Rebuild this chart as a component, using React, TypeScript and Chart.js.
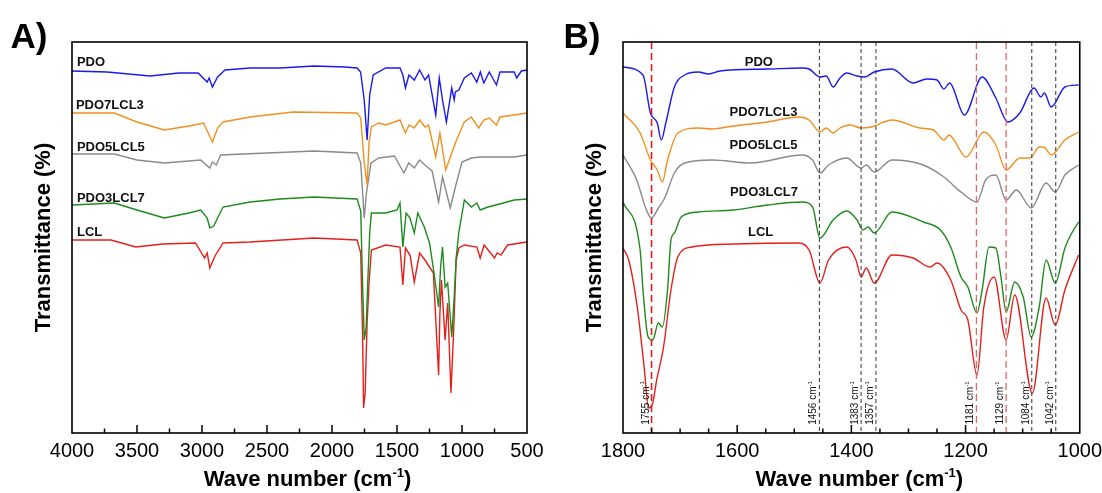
import React, { useEffect, useRef } from 'react';
import { Chart, registerables } from 'chart.js';

Chart.register(...registerables);

const FONT = "'Liberation Sans', Arial, Helvetica, sans-serif";

const seriesNames = ['PDO', 'PDO7LCL3', 'PDO5LCL5', 'PDO3LCL7', 'LCL'];
const seriesColors = ['#1a1aeb', '#f0901e', '#8a8a8a', '#1e8a1e', '#e3201b'];

// ---------- Panel A (full range, wavenumber, offset transmittance a.u.) ----------
const pdoA: [number, number][] = [
  [4000, 362], [3730, 361], [3400, 357], [3180, 360], [3030, 360], [2960, 351], [2945, 355], [2920, 346],
  [2880, 356], [2823, 363], [2630, 365], [2400, 365], [2136, 367], [1900, 366], [1807, 365], [1780, 361],
  [1752, 333], [1730, 293], [1710, 338], [1683, 358], [1587, 365], [1477, 365], [1455, 358], [1435, 345],
  [1408, 358], [1367, 353], [1326, 363], [1285, 353], [1257, 358], [1202, 318], [1175, 355], [1150, 333],
  [1120, 311], [1079, 345], [1060, 333], [1051, 341], [1024, 343], [982, 355], [928, 360], [886, 351],
  [859, 361], [832, 350], [790, 361], [735, 348], [708, 361], [598, 361], [579, 355], [543, 362], [500, 363],
];
const pdo7A: [number, number][] = [
  [4000, 320], [3675, 320], [3500, 311], [3290, 303], [3100, 307], [2988, 310], [2960, 302], [2919, 291],
  [2880, 305], [2838, 311], [2630, 316], [2300, 321], [1807, 320], [1779, 315], [1752, 270], [1730, 248],
  [1715, 290], [1697, 306], [1640, 310], [1587, 308], [1477, 313], [1435, 300], [1408, 308], [1367, 305],
  [1326, 313], [1285, 306], [1257, 308], [1202, 276], [1170, 300], [1125, 263], [1079, 280], [1051, 290],
  [982, 311], [928, 316], [872, 305], [832, 313], [790, 315], [735, 308], [708, 316], [598, 318], [500, 320],
];
const pdo5A: [number, number][] = [
  [4000, 279], [3675, 279], [3500, 273], [3290, 270], [3010, 273], [2940, 265], [2919, 271], [2890, 268],
  [2856, 278], [2500, 280], [2136, 282], [1807, 280], [1779, 270], [1752, 215], [1735, 240], [1700, 270],
  [1640, 275], [1520, 277], [1447, 260], [1410, 270], [1367, 265], [1326, 273], [1285, 268], [1230, 262],
  [1180, 231], [1150, 256], [1090, 225], [1051, 246], [1000, 271], [928, 275], [860, 276], [750, 276],
  [598, 276], [500, 278],
];
const pdo3A: [number, number][] = [
  [4000, 228], [3675, 230], [3500, 223], [3290, 215], [3100, 220], [3010, 223], [2960, 215], [2940, 205],
  [2910, 207], [2880, 215], [2838, 226], [2630, 231], [2400, 234], [2136, 236], [1807, 234], [1779, 222],
  [1765, 150], [1752, 93], [1737, 106], [1725, 150], [1710, 200], [1697, 220], [1587, 220], [1500, 223],
  [1477, 230], [1455, 186], [1430, 220], [1400, 215], [1367, 200], [1340, 220], [1290, 206], [1250, 190],
  [1215, 160], [1180, 126], [1165, 165], [1150, 186], [1130, 146], [1110, 150], [1079, 96], [1060, 136],
  [1045, 175], [1025, 200], [982, 233], [928, 226], [886, 230], [860, 223], [800, 226], [740, 228],
  [598, 233], [500, 234],
];
const lclA: [number, number][] = [
  [4000, 193], [3700, 193], [3510, 186], [3300, 189], [3050, 190], [2980, 175], [2960, 180], [2940, 165],
  [2900, 177], [2838, 190], [2630, 191], [2136, 195], [1807, 193], [1779, 180], [1765, 100], [1757, 25],
  [1745, 40], [1730, 110], [1715, 150], [1697, 183], [1587, 188], [1477, 186], [1455, 148], [1435, 185],
  [1400, 178], [1367, 151], [1326, 180], [1285, 173], [1220, 160], [1180, 58], [1170, 120], [1158, 153],
  [1130, 93], [1110, 130], [1085, 40], [1065, 100], [1045, 173], [1024, 185], [982, 188], [886, 186],
  [860, 175], [830, 188], [750, 175], [730, 180], [700, 178], [650, 188], [500, 191],
];

// ---------- Panel B (1800-1000 cm-1 zoom) ----------
const pdoB: [number, number][] = [
  [1800, 366], [1765, 358], [1752, 320], [1740, 310], [1733, 293], [1725, 310], [1710, 346], [1692, 358],
  [1668, 361], [1650, 359], [1630, 362], [1547, 364], [1486, 365], [1474, 364], [1455, 356], [1444, 357],
  [1432, 346], [1420, 355], [1408, 360], [1390, 357], [1377, 356], [1360, 361], [1329, 364], [1292, 350],
  [1268, 354], [1250, 353], [1238, 344], [1228, 350], [1202, 318], [1171, 356], [1147, 335], [1126, 311],
  [1105, 320], [1080, 345], [1068, 336], [1062, 340], [1050, 326], [1026, 346], [1002, 348],
];
const pdo7B: [number, number][] = [
  [1800, 320], [1770, 300], [1752, 273], [1740, 263], [1731, 251], [1722, 273], [1704, 300], [1668, 305],
  [1644, 304], [1607, 307], [1547, 311], [1492, 316], [1474, 313], [1455, 301], [1444, 305], [1432, 300],
  [1420, 305], [1402, 308], [1383, 305], [1365, 306], [1329, 313], [1280, 305], [1256, 303], [1238, 293],
  [1229, 298], [1199, 276], [1168, 301], [1147, 288], [1129, 263], [1105, 275], [1087, 275], [1071, 286],
  [1063, 286], [1050, 278], [1026, 293], [1002, 301],
];
const pdo5B: [number, number][] = [
  [1800, 278], [1776, 253], [1759, 223], [1750, 215], [1738, 225], [1727, 235], [1710, 260], [1692, 270],
  [1644, 273], [1577, 270], [1486, 278], [1468, 273], [1455, 260], [1440, 268], [1408, 275], [1383, 265],
  [1374, 268], [1360, 261], [1329, 273], [1274, 268], [1238, 256], [1208, 241], [1180, 231], [1165, 253],
  [1147, 258], [1129, 233], [1111, 243], [1085, 225], [1059, 250], [1043, 241], [1026, 258], [1002, 268],
];
const pdo3B: [number, number][] = [
  [1800, 231], [1770, 183], [1765, 143], [1756, 96], [1748, 93], [1738, 110], [1731, 106], [1722, 143],
  [1716, 193], [1710, 200], [1698, 216], [1668, 221], [1607, 223], [1547, 228], [1486, 231], [1468, 226],
  [1455, 195], [1432, 213], [1408, 222], [1390, 213], [1380, 203], [1371, 206], [1360, 200], [1329, 221],
  [1274, 211], [1244, 203], [1226, 186], [1208, 156], [1196, 146], [1180, 120], [1171, 143], [1159, 186],
  [1147, 185], [1138, 156], [1129, 121], [1114, 151], [1099, 136], [1085, 96], [1071, 126], [1059, 173],
  [1043, 150], [1026, 185], [1014, 200], [1002, 211],
];
const lclB: [number, number][] = [
  [1800, 185], [1790, 173], [1775, 126], [1763, 66], [1755, 25], [1748, 30], [1741, 53], [1729, 86],
  [1716, 143], [1704, 176], [1680, 186], [1607, 189], [1492, 190], [1474, 183], [1455, 150], [1440, 173],
  [1408, 186], [1392, 173], [1383, 156], [1374, 165], [1360, 150], [1329, 178], [1292, 175], [1262, 166],
  [1250, 170], [1226, 153], [1208, 123], [1196, 113], [1180, 58], [1168, 126], [1150, 156], [1129, 93],
  [1114, 138], [1083, 40], [1059, 135], [1043, 108], [1026, 143], [1002, 178],
];

// Axis ranges / ticks
const axisA = { min: 500, max: 4000, major: 500, minor: 250 };
const axisB = { min: 1000, max: 1800, major: 200, minor: 50 };

// Series label anchors (wavenumber, value)
const labelTextA = seriesNames;
const labelXA = [3962, 3970, 3962, 3962, 3962];
const labelYA = [371, 328, 286, 235, 201];
const labelXB = [1562, 1554, 1554, 1553, 1559];
const labelYB = [371, 321, 288, 241, 201];

// Marker lines in panel B
const markerPos = [1750, 1456, 1383, 1357, 1181, 1129, 1084, 1042];
const markerText = ['1755', '1456', '1383', '1357', '1181', '1129', '1084', '1042'];
const markerKind = ['red', 'gray', 'gray', 'gray', 'pink', 'pink', 'gray', 'gray'];

const markerStyle: Record<string, { color: string; width: number; dash: number[] }> = {
  red: { color: '#e41a1c', width: 1.6, dash: [7, 4] },
  pink: { color: '#e06868', width: 1.3, dash: [7, 4] },
  gray: { color: '#333333', width: 1, dash: [4, 3] },
};

function drawSup(ctx: CanvasRenderingContext2D, main: string, sup: string, tail: string, size: number, weight: string, align: 'center' | 'left') {
  const big = `${weight} ${size}px ${FONT}`;
  const small = `${weight} ${Math.round(size * 0.6)}px ${FONT}`;
  ctx.font = big;
  const w1 = ctx.measureText(main).width;
  const w3 = ctx.measureText(tail).width;
  ctx.font = small;
  const w2 = ctx.measureText(sup).width;
  const total = w1 + w2 + w3;
  let x = align === 'center' ? -total / 2 : 0;
  ctx.textAlign = 'left';
  ctx.textBaseline = 'alphabetic';
  ctx.font = big;
  ctx.fillText(main, x, 0);
  x += w1;
  ctx.font = small;
  ctx.fillText(sup, x, -size * 0.42);
  x += w2;
  ctx.font = big;
  ctx.fillText(tail, x, 0);
}

interface PanelProps {
  left: number;
  width: number;
  padRight: number;
  letter: string;
  series: [number, number][][];
  axis: { min: number; max: number; major: number; minor: number };
  labelX: number[];
  labelY: number[];
  labelAlign: 'left' | 'center';
  markers: boolean;
  smooth: boolean;
}

function Panel(props: PanelProps) {
  const ref = useRef<HTMLCanvasElement>(null);
  useEffect(() => {
    const canvas = ref.current;
    if (!canvas) return;
    const { axis } = props;
    const decor = {
      id: 'decor',
      afterDatasetsDraw(chart: any) {
        const ctx: CanvasRenderingContext2D = chart.ctx;
        const ca = chart.chartArea;
        const xs = chart.scales.x;
        const ys = chart.scales.y;
        ctx.save();
        // marker lines
        if (props.markers) {
          markerPos.forEach((v, i) => {
            const st = markerStyle[markerKind[i]];
            const px = xs.getPixelForValue(v);
            ctx.beginPath();
            ctx.setLineDash(st.dash);
            ctx.strokeStyle = st.color;
            ctx.lineWidth = st.width;
            ctx.moveTo(px, ca.top);
            ctx.lineTo(px, ca.bottom);
            ctx.stroke();
          });
          ctx.setLineDash([]);
          ctx.fillStyle = '#111';
          markerPos.forEach((v, i) => {
            const px = xs.getPixelForValue(v);
            ctx.save();
            ctx.translate(px - 3, ca.bottom - 30);
            ctx.rotate(-Math.PI / 2);
            drawSup(ctx, markerText[i] + ' cm', '-1', '', 10, 'normal', 'center');
            ctx.restore();
          });
        }
        // frame
        ctx.setLineDash([]);
        ctx.strokeStyle = '#000';
        ctx.lineWidth = 1.6;
        ctx.strokeRect(ca.left, ca.top, ca.right - ca.left, ca.bottom - ca.top);
        // inward ticks
        ctx.lineWidth = 1.5;
        for (let v = axis.min + axis.minor; v < axis.max; v += axis.minor) {
          const isMajor = (v - axis.min) % axis.major === 0;
          const px = xs.getPixelForValue(v);
          ctx.beginPath();
          ctx.moveTo(px, ca.bottom);
          ctx.lineTo(px, ca.bottom - (isMajor ? 8 : 4.5));
          ctx.stroke();
        }
        // series labels
        ctx.fillStyle = '#111';
        ctx.font = `bold 13px ${FONT}`;
        ctx.textAlign = props.labelAlign;
        ctx.textBaseline = 'middle';
        labelTextA.forEach((t, i) => {
          ctx.fillText(t, xs.getPixelForValue(props.labelX[i]), ys.getPixelForValue(props.labelY[i]));
        });
        // axis titles
        ctx.fillStyle = '#000';
        ctx.save();
        ctx.translate(ca.left - 22, (ca.top + ca.bottom) / 2);
        ctx.rotate(-Math.PI / 2);
        ctx.font = `bold 22px ${FONT}`;
        ctx.textAlign = 'center';
        ctx.textBaseline = 'alphabetic';
        ctx.fillText('Transmittance (%)', 0, 0);
        ctx.restore();
        ctx.save();
        ctx.translate((ca.left + ca.right) / 2 + 8, ca.bottom + 53);
        drawSup(ctx, 'Wave number (cm', '-1', ')', 22, 'bold', 'center');
        ctx.restore();
        // panel letter
        ctx.font = `bold 35px ${FONT}`;
        ctx.textAlign = 'left';
        ctx.textBaseline = 'alphabetic';
        ctx.fillText(props.letter, props.left === 0 ? 10.5 : 12.5, 48);
        ctx.restore();
      },
    };
    const chart = new Chart(canvas, {
      type: 'line',
      data: {
        datasets: props.series.map((s, i) => ({
          label: seriesNames[i],
          data: s.map(([x, y]) => ({ x, y })),
          borderColor: seriesColors[i],
          backgroundColor: seriesColors[i],
          borderWidth: 1.4,
          pointRadius: 0,
          fill: false,
          tension: props.smooth ? 0.4 : 0,
          cubicInterpolationMode: props.smooth ? 'monotone' : 'default',
        })),
      },
      options: {
        responsive: false,
        animation: false,
        devicePixelRatio: 1,
        layout: { padding: { left: 72, right: props.padRight, top: 42, bottom: 0 } },
        plugins: { legend: { display: false }, tooltip: { enabled: false } },
        scales: {
          x: {
            type: 'linear',
            reverse: true,
            min: axis.min,
            max: axis.max,
            afterFit: (s: any) => {
              s.height = 60;
            },
            grid: { display: false, drawTicks: false },
            border: { display: false },
            ticks: {
              stepSize: axis.major,
              autoSkip: false,
              maxRotation: 0,
              padding: 0,
              color: '#000',
              font: { family: FONT, size: 20, lineHeight: 1.85 },
              callback: (v: any) => String(v),
            },
          },
          y: { display: false, min: 0, max: 391 },
        },
      } as any,
      plugins: [decor],
    });
    return () => chart.destroy();
  }, []);
  return (
    <canvas
      ref={ref}
      width={props.width}
      height={493}
      style={{ position: 'absolute', left: props.left, top: 0, width: props.width, height: 493 }}
    />
  );
}

export default function App() {
  return (
    <div style={{ position: 'absolute', left: 0, top: 0, width: 1102, height: 493, background: '#ffffff', overflow: 'hidden' }}>
      <Panel
        left={0}
        width={551}
        padRight={24}
        letter="A)"
        series={[pdoA, pdo7A, pdo5A, pdo3A, lclA]}
        axis={axisA}
        labelX={labelXA}
        labelY={labelYA}
        labelAlign="left"
        markers={false}
        smooth={false}
      />
      <Panel
        left={551}
        width={551}
        padRight={22}
        letter="B)"
        series={[pdoB, pdo7B, pdo5B, pdo3B, lclB]}
        axis={axisB}
        labelX={labelXB}
        labelY={labelYB}
        labelAlign="center"
        markers={true}
        smooth={true}
      />
    </div>
  );
}
